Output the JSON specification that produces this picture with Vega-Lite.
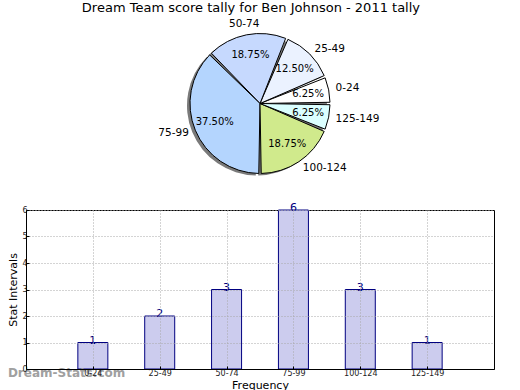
{
  "$schema": "https://vega.github.io/schema/vega-lite/v6.json",
  "padding": {"left": 7, "top": 2, "right": 0, "bottom": 0},
  "title": {"text": "Dream Team score tally for Ben Johnson - 2011 tally", "anchor": "middle", "fontSize": 13, "fontWeight": "normal", "font": "DejaVu Sans", "color": "black", "offset": 4},
  "config": {"font": "DejaVu Sans", "view": {"stroke": "black"}},
  "data": {"values": [
    {"range": "0-24", "k": 1, "count": 1, "pct": "6.25%"},
    {"range": "25-49", "k": 2, "count": 2, "pct": "12.50%"},
    {"range": "50-74", "k": 3, "count": 3, "pct": "18.75%"},
    {"range": "75-99", "k": 4, "count": 6, "pct": "37.50%"},
    {"range": "100-124", "k": 5, "count": 3, "pct": "18.75%"},
    {"range": "125-149", "k": 6, "count": 1, "pct": "6.25%"}
  ]},
  "spacing": 20,
  "vconcat": [
    {
      "width": 468,
      "height": 155,
      "view": {"stroke": null},
      "transform": [
        {"stack": "count", "groupby": [], "sort": [{"field": "k", "order": "descending"}], "as": ["t0", "t1"]},
        {"calculate": "(datum.t0 + datum.t1) / 2", "as": "mid"}
      ],
      "encoding": {
        "theta": {"field": "t0", "type": "quantitative", "stack": null, "scale": {"domain": [0, 16], "range": [1.5708, 7.854]}},
        "theta2": {"field": "t1"}
      },
      "layer": [
        {"mark": {"type": "arc", "outerRadius": 70, "fill": "#7a7a7a", "xOffset": -3, "yOffset": 2, "padAngle": 0.035}},
        {"mark": {"type": "arc", "outerRadius": 70, "stroke": "black", "strokeWidth": 1, "padAngle": 0.035},
         "encoding": {"color": {"field": "range", "type": "nominal", "legend": null,
           "scale": {"domain": ["0-24", "25-49", "50-74", "75-99", "100-124", "125-149"],
                     "range": ["#ffffff", "#ebf2ff", "#c6d9fe", "#b4d5fe", "#d0ea8c", "#dbffff"]}}}},
        {"mark": {"type": "text", "radius": 49, "fontSize": 10, "color": "black"},
         "encoding": {"theta": {"field": "mid", "type": "quantitative", "stack": null}, "theta2": null, "text": {"field": "pct"}}},
        {"transform": [{"filter": "datum.range == '75-99'"}],
         "mark": {"type": "text", "radius": 77, "align": "right", "fontSize": 10.5, "color": "black"},
         "encoding": {"theta": {"field": "mid", "type": "quantitative", "stack": null}, "theta2": null, "text": {"field": "range"}}},
        {"transform": [{"filter": "datum.range != '75-99' && datum.range != '50-74'"}],
         "mark": {"type": "text", "radius": 77, "align": "left", "fontSize": 10.5, "color": "black"},
         "encoding": {"theta": {"field": "mid", "type": "quantitative", "stack": null}, "theta2": null, "text": {"field": "range"}}},
        {"transform": [{"filter": "datum.range == '50-74'"}],
         "mark": {"type": "text", "radius": 81, "align": "center", "fontSize": 10.5, "color": "black"},
         "encoding": {"theta": {"field": "mid", "type": "quantitative", "stack": null}, "theta2": null, "text": {"field": "range"}}}
      ]
    },
    {
      "width": 468,
      "height": 159,
      "title": {"text": "Dream-Stats.com", "orient": "bottom", "anchor": "start", "frame": "bounds", "fontSize": 12, "fontWeight": "bold", "color": "#a0a0a0", "offset": -22},
      "encoding": {
        "x": {"field": "range", "type": "ordinal", "sort": ["0-24", "25-49", "50-74", "75-99", "100-124", "125-149"],
              "scale": {"type": "point", "padding": 1},
              "axis": {"title": "Frequency", "titleFontSize": 11, "titleFontWeight": "normal", "titlePadding": 2, "labelFontSize": 8, "labelColor": "#222", "labelAngle": 0, "labelPadding": 3,
                       "grid": true, "gridDash": [1, 2], "gridColor": "#a8a8a8", "tickSize": -3, "tickColor": "black", "domainColor": "black", "zindex": 1}},
        "y": {"field": "count", "type": "quantitative", "scale": {"domain": [0, 6], "nice": false},
              "axis": {"title": "Stat Intervals", "titleFontSize": 11, "titleFontWeight": "normal", "titlePadding": 3, "labelFontSize": 8, "labelColor": "#222", "labelPadding": 2,
                       "values": [0, 1, 2, 3, 4, 5, 6], "grid": true, "gridDash": [1, 2], "gridColor": "#a8a8a8", "tickSize": -3, "tickColor": "black", "domainColor": "black", "zindex": 1}}
      },
      "layer": [
        {"mark": {"type": "bar", "width": 30, "fill": "#ccccee", "stroke": "#000080", "strokeWidth": 1}},
        {"mark": {"type": "text", "color": "#000080", "fontSize": 11, "baseline": "middle", "dy": -2}, "encoding": {"text": {"field": "count", "type": "quantitative"}}}
      ]
    }
  ]
}
